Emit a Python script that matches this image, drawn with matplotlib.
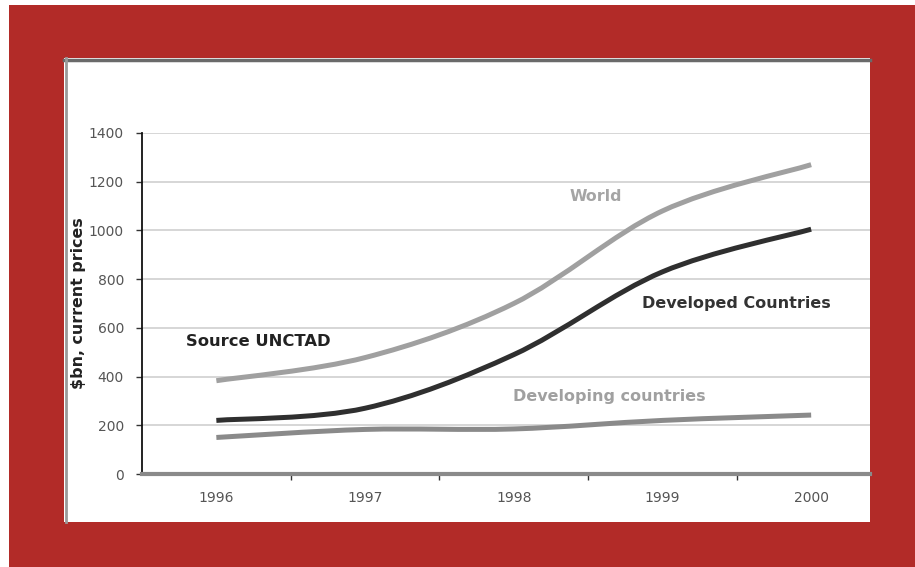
import matplotlib
matplotlib.use("Agg")
import matplotlib.pyplot as plt
import numpy as np
from matplotlib.path import Path
from matplotlib.patches import PathPatch, Rectangle
from matplotlib.ticker import FixedLocator

plt.rcParams['font.family'] = ['DejaVu Sans']

years = ['1996', '1997', '1998', '1999', '2000']
world = [383, 478, 700, 1080, 1270]
developed = [220, 270, 490, 830, 1005]
developing = [150, 183, 185, 220, 242]


def smooth_path(xs, ys):
    # Catmull-Rom style bezier through the points, like a spreadsheet smoothed line
    pts = np.column_stack([xs, ys]).astype(float)
    n = len(pts)
    verts = [pts[0]]
    codes = [Path.MOVETO]
    for i in range(n - 1):
        p0 = pts[i - 1] if i > 0 else pts[i]
        p1 = pts[i]
        p2 = pts[i + 1]
        p3 = pts[i + 2] if i + 2 < n else pts[i + 1]
        c1 = p1 + (p2 - p0) / 6.0
        c2 = p2 - (p3 - p1) / 6.0
        verts += [c1, c2, p2]
        codes += [Path.CURVE4] * 3
    return Path(verts, codes)


fig = plt.figure(figsize=(9.15, 5.67), dpi=100)
W, H = 915, 567

# red frame with white panel inside
fig.add_artist(Rectangle((9 / W, 0), 1 - 9 / W, 1 - 5 / H, transform=fig.transFigure,
                         facecolor='#b22b28', edgecolor='none', zorder=-3))
fig.add_artist(Rectangle((64 / W, 1 - 522 / H), (870 - 64) / W, (522 - 58) / H,
                         transform=fig.transFigure, facecolor='white', edgecolor='none', zorder=-2))
fig.add_artist(plt.Line2D([64 / W, 870 / W], [1 - 60 / H, 1 - 60 / H], transform=fig.transFigure,
                          color='#6a6a6a', lw=2.5, zorder=-1))
fig.add_artist(plt.Line2D([66 / W, 66 / W], [1 - 522 / H, 1 - 58 / H], transform=fig.transFigure,
                          color='#9a9a9a', lw=2, zorder=-1))

ax = fig.add_axes([142 / W, 1 - 474 / H, (870 - 142) / W, (474 - 133) / H])
ax.set_zorder(2)
ax.set_facecolor('none')
x = np.arange(len(years))
ax.set_xlim(-0.5, -0.5 + (870 - 142) / 148.7)
ax.set_ylim(0, 1400)

series = [(world, '#a0a0a0'), (developed, '#2f2f2f'), (developing, '#8a8a8a')]
for vals, col in series:
    ax.add_patch(PathPatch(smooth_path(x, vals), fill=False, edgecolor=col, lw=3.6,
                           capstyle='butt', joinstyle='round', zorder=3))

ax.set_yticks(range(0, 1401, 200))
ax.yaxis.grid(True, color='#cfcfcf', lw=1.2)
ax.set_axisbelow(True)
ax.set_xticks(x)
ax.set_xticklabels(years)
ax.xaxis.set_minor_locator(FixedLocator([0.5, 1.5, 2.5, 3.5]))
ax.tick_params(axis='x', which='major', length=0, pad=12, labelsize=10, labelcolor='#555555')
ax.tick_params(axis='x', which='minor', length=4, width=1, color='#333333', direction='out')
ax.tick_params(axis='y', length=4, width=1, color='#333333', pad=9, labelsize=10, labelcolor='#555555')

for s in ['top', 'right']:
    ax.spines[s].set_visible(False)
ax.spines['left'].set_color('#111111')
ax.spines['left'].set_linewidth(1.3)
ax.spines['bottom'].set_color('#8a8a8a')
ax.spines['bottom'].set_linewidth(3)

ax.set_ylabel('$bn, current prices', fontsize=11.4, fontweight='bold', color='#222222')
ax.yaxis.set_label_coords(-(142 - 86) / (870 - 142), 0.5)

ax.text(2.55, 1140, 'World', fontsize=11.4, fontweight='bold', color='#a5a5a5',
        ha='center', va='center')
ax.text(3.5, 700, 'Developed Countries', fontsize=11.5, fontweight='bold', color='#333333',
        ha='center', va='center')
ax.text(0.28, 545, 'Source UNCTAD', fontsize=11.8, fontweight='bold', color='#222222',
        ha='center', va='center')
ax.text(2.64, 320, 'Developing countries', fontsize=11.5, fontweight='bold', color='#a0a0a0',
        ha='center', va='center')

fig.savefig('out.png', dpi=100, facecolor='white')
